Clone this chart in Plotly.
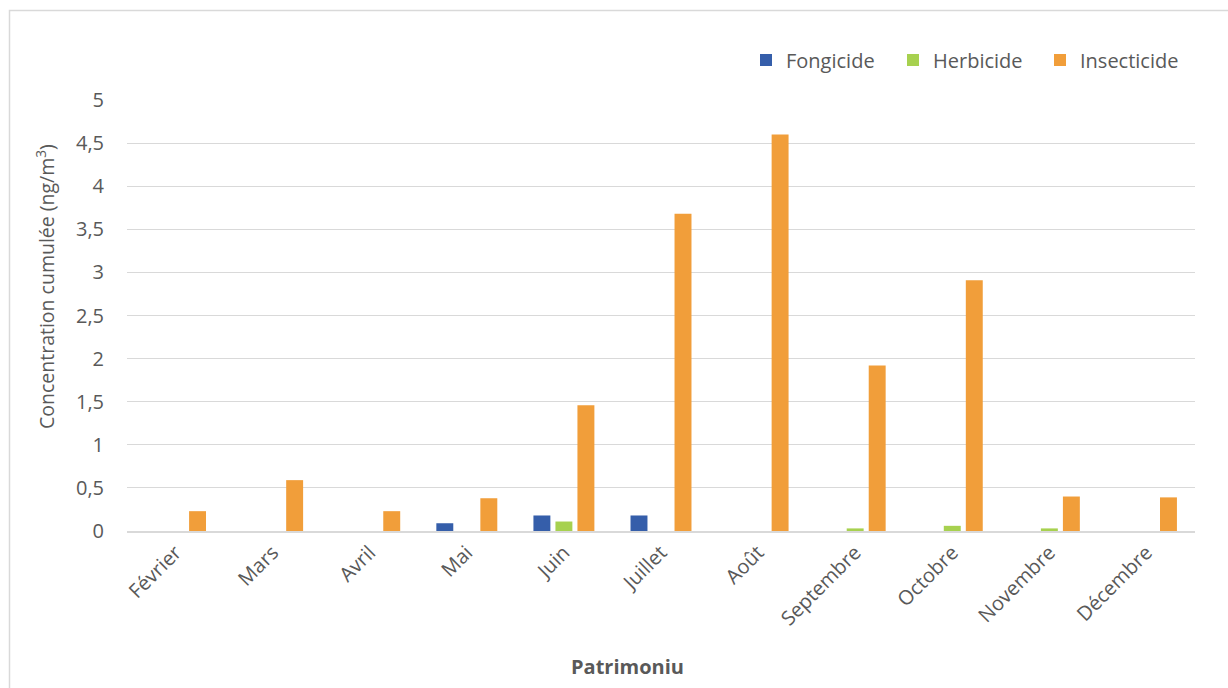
import plotly.graph_objects as go

# Monthly cumulative concentration by pesticide family
mois = ["Février", "Mars", "Avril", "Mai", "Juin", "Juillet", "Août",
        "Septembre", "Octobre", "Novembre", "Décembre"]
fongicide = [0, 0, 0, 0.09, 0.18, 0.18, 0, 0, 0, 0, 0]
herbicide = [0, 0, 0, 0, 0.11, 0, 0, 0.03, 0.06, 0.03, 0]
insecticide = [0.23, 0.59, 0.23, 0.38, 1.46, 3.68, 4.6, 1.92, 2.91, 0.40, 0.39]
y_ticks = [0, 0.5, 1, 1.5, 2, 2.5, 3, 3.5, 4, 4.5, 5]
y_tick_text = ["0", "0,5", "1", "1,5", "2", "2,5", "3", "3,5", "4", "4,5", "5"]

W, H = 1228, 688
L, R, T, B = 127, 33, 100, 157
pw, ph = W - L - R, H - T - B

def px_x(x):
    return (x - L) / pw

def px_y(y):
    return (H - B - y) / ph

FONT = "Open Sans"
TXT = "#595959"
FS = 20

fig = go.Figure()
series = [("Fongicide", fongicide, "#355EAA"),
          ("Herbicide", herbicide, "#A7D14F"),
          ("Insecticide", insecticide, "#F19E3A")]
for name, vals, col in series:
    fig.add_trace(go.Bar(x=mois, y=vals, name=name, marker_color=col,
                         marker_line_width=0))

fig.update_layout(
    width=W, height=H,
    margin=dict(l=L, r=R, t=T, b=B),
    paper_bgcolor="white", plot_bgcolor="white",
    barmode="group", bargap=0.32, bargroupgap=0.23,
    font=dict(family=FONT, size=FS, color=TXT),
    legend=dict(orientation="h", x=px_x(746), y=px_y(60), xanchor="left",
                yanchor="middle", font=dict(size=FS, color=TXT),
                itemwidth=30, entrywidth=102, entrywidthmode="pixels",
                traceorder="normal"),
    showlegend=True,
)
fig.update_xaxes(showgrid=False, tickangle=-45, ticks="", showline=True,
                 linecolor="#D9D9D9", linewidth=2,
                 tickfont=dict(size=FS, color=TXT))
fig.update_yaxes(range=[0, 5], tickvals=y_ticks, ticktext=y_tick_text,
                 showgrid=True, gridcolor="#D9D9D9", gridwidth=1,
                 zeroline=False, showline=False, ticks="",
                 ticklabelstandoff=22,
                 tickfont=dict(size=FS, color=TXT))

# Axis titles
fig.add_annotation(text="<b>Patrimoniu</b>", xref="paper", yref="paper",
                   x=px_x(627), y=px_y(666), xanchor="center",
                   yanchor="middle", showarrow=False,
                   font=dict(size=FS, color=TXT))
fig.add_annotation(text="Concentration cumulée (ng/m<sup>3</sup>)",
                   xref="paper", yref="paper", x=px_x(45), y=px_y(287),
                   xanchor="center", yanchor="middle",
                   textangle=-90, showarrow=False,
                   font=dict(size=19.5, color=TXT))

# Chart-area frame
fig.add_shape(type="rect", xref="paper", yref="paper",
              x0=px_x(9.5), x1=px_x(1240), y0=px_y(700), y1=px_y(10.5),
              line=dict(color="#D9D9D9", width=1.5), layer="below")

fig.write_html("out.html")
